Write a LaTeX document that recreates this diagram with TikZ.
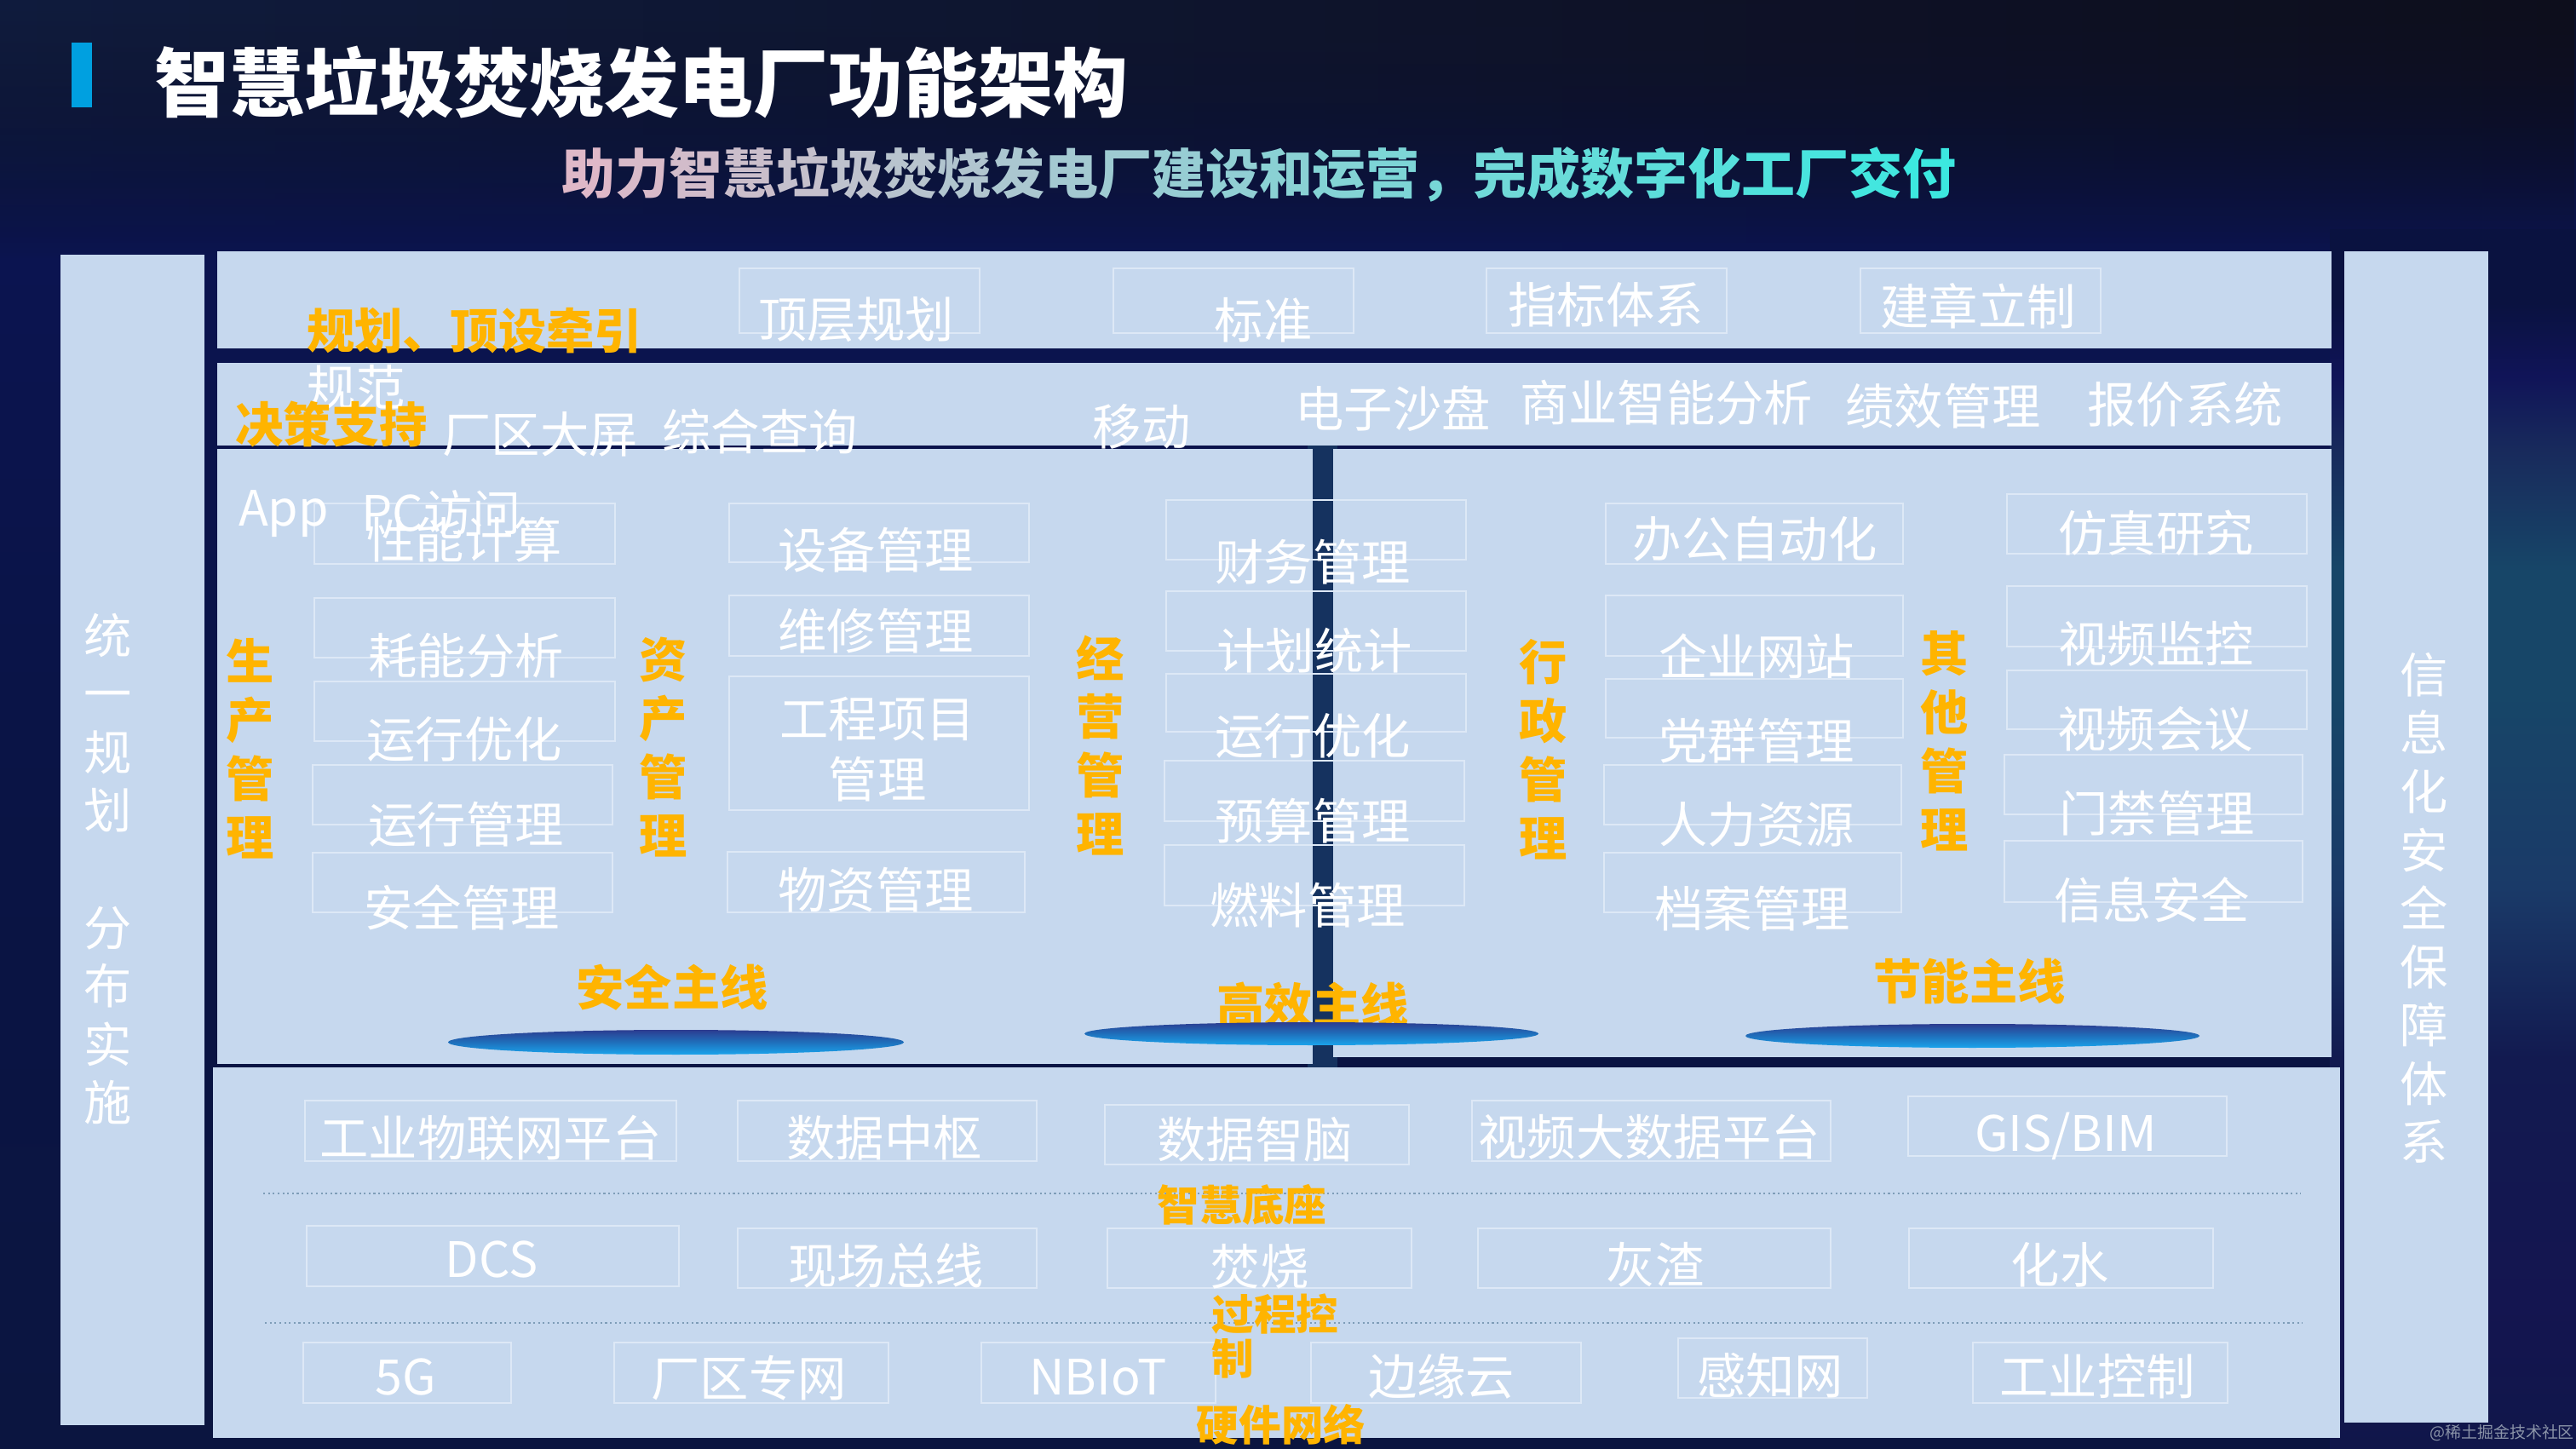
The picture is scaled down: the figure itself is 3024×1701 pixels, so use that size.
\documentclass[tikz,border=0pt]{standalone}
\usepackage{fontspec}
\setmainfont{Noto Sans CJK SC}
\usepackage{xcolor}
\usetikzlibrary{shapes.geometric,fadings}
\definecolor{panelblue}{HTML}{C6D8EE}
\definecolor{celledge}{HTML}{DDE8F6}
\definecolor{goldlabel}{HTML}{FFB400}
\definecolor{barblue}{HTML}{00A0E0}
\definecolor{subpink}{HTML}{DFB8C8}
\definecolor{subcyan}{HTML}{3CE8E0}
\definecolor{dotline}{HTML}{7E9DB8}
\definecolor{backa}{HTML}{0B1540}
\definecolor{backb}{HTML}{0A1444}
\definecolor{backc}{HTML}{0B1450}
\definecolor{backd}{HTML}{0A1035}
\definecolor{backe}{HTML}{0C1026}
\definecolor{sidea}{HTML}{10164A}
\definecolor{sideb}{HTML}{141550}
\definecolor{sidec}{HTML}{121A50}
\definecolor{sided}{HTML}{1A3A68}
\definecolor{sidee}{HTML}{174668}
\definecolor{sidef}{HTML}{182A5C}
\definecolor{sideg}{HTML}{101458}
\definecolor{sideh}{HTML}{0A1240}
\definecolor{topleft}{HTML}{101C3E}
\definecolor{topright}{HTML}{0E0E1C}
\definecolor{splitblue}{HTML}{15325F}
\definecolor{ovaltop}{HTML}{2C3C90}
\definecolor{ovalmid}{HTML}{1F70BC}
\definecolor{ovalbot}{HTML}{1AA4EC}
\definecolor{markgrey}{HTML}{8A93A8}
\pgfdeclareverticalshading{backshade}{100bp}{
  color(0bp)=(backa);color(25bp)=(backa);color(46bp)=(backb);color(66bp)=(backc);color(71bp)=(backd);color(75bp)=(backe);color(100bp)=(backe)}
\pgfdeclareverticalshading{sideshade}{100bp}{
  color(0bp)=(sidea);color(25bp)=(sidea);color(31bp)=(sideb);color(41bp)=(sidec);color(48bp)=(sided);color(56bp)=(sidee);color(61bp)=(sidee);color(66bp)=(sidef);color(69bp)=(sideg);color(72bp)=(sideh);color(75bp)=(sideh);color(100bp)=(sideh)}
\tikzset{
  panelbox/.style={fill=panelblue,inner sep=0pt,outer sep=0pt},
  cellbox/.style={draw=celledge,line width=0.8pt,inner sep=0pt,outer sep=0pt},
  celltext/.style={text=white,inner sep=0pt,align=center,font=\fontsize{16.3}{20.2}\selectfont},
  goldtext/.style={text=goldlabel,inner sep=0pt,align=center,font=\fontsize{16}{19.6}\bfseries\selectfont},
  goldsmall/.style={text=goldlabel,inner sep=0pt,align=left,font=\fontsize{14.1}{14.8}\bfseries\selectfont},
  sidetext/.style={text=white,inner sep=0pt,align=center,font=\fontsize{16}{19.5}\selectfont},
  mainoval/.style={ellipse,inner sep=0pt,top color=ovaltop,bottom color=ovalbot,middle color=ovalmid},
  dotsep/.style={dotline,line width=0.6pt,densely dotted}
}
\begin{document}
\begin{tikzpicture}[x=0.01cm,y=-0.01cm]
  \useasboundingbox (0,0) rectangle (3024,1701);
  \path[shading=backshade] (0,0) rectangle (3024,1701);
  \path[left color=topleft,right color=topright,path fading=south] (0,0) rectangle (3024,300);
  \path[shading=sideshade] (2735,270) rectangle (3024,1701);
  \fill[splitblue] (1535,520) rectangle (1570,1255);
  % panels
  \foreach \nm/\xa/\ya/\xb/\yb in {uni/71/299/240/1673,sec/2752/295/2921/1670,top/255/295/2737/409,dec/255/426/2737/523,
      appl/255/527/1541/1249,appr/1565/527/2737/1241,base/250/1253/2747/1688}
    \node[panelbox,minimum width={(\xb-\xa)*0.01cm},minimum height={(\yb-\ya)*0.01cm}] (panel\nm) at ({(\xa+\xb)/2},{(\ya+\yb)/2}) {};
  \node[fill=barblue,inner sep=0pt,minimum width=0.24cm,minimum height=0.76cm] (titlebar) at (96,88) {};
  \node[text=white,inner sep=0pt,font=\fontsize{25}{30}\bfseries\selectfont] (title) at (753,97) {智慧垃圾焚烧发电厂功能架构};
  \node[inner sep=0pt,font=\fontsize{17.9}{22}\bfseries\selectfont] (subtitle) at (1478,205) {%
    \foreach \zi [count=\ci] in {助,力,智,慧,垃,圾,焚,烧,发,电,厂,建,设,和,运,营,，,完,成,数,字,化,工,厂,交,付}{%
      \pgfmathsetmacro\mixp{100-(\ci-1)*4}\textcolor{subpink!\mixp!subcyan}{\zi}}};
  % cells: name, box corners, text position, text
  \foreach \nm/\xa/\ya/\xb/\yb/\tx/\ty/\txt in {
      plan/868/315/1150/391/1005/375/顶层规划,std/1307/315/1589/391/1483/376/标准,
      kpi/1745/315/2027/391/1885/358/指标体系,rule/2184/315/2466/391/2322/359/建章立制,
      perf/369/591/722/662/545/634/性能计算,cons/369/702/722/772/547/770/耗能分析,
      opta/369/800/722/870/545/868/运行优化,oper/367/898/719/968/547/968/运行管理,
      safe/367/1001/719/1071/542/1065/安全管理,
      equip/856/591/1208/660/1028/646/设备管理,fix/856/699/1208/770/1028/741/维修管理,
      proj/856/794/1208/951/1030/880/{工程项目\\管理},stock/854/1000/1203/1071/1028/1045/物资管理,
      fin/1369/587/1721/657/1541/660/财务管理,stat/1369/694/1721/764/1543/764/计划统计,
      optb/1369/791/1721/859/1541/864/运行优化,budg/1367/893/1719/964/1541/964/预算管理,
      fuel/1367/992/1719/1063/1535/1063/燃料管理,
      auto/1885/591/2234/662/2060/633/办公自动化,web/1885/699/2234/770/2062/770/企业网站,
      party/1885/797/2234/866/2062/870/党群管理,hr/1883/898/2232/968/2062/968/人力资源,
      arch/1883/1001/2232/1071/2057/1067/档案管理,
      simu/2356/580/2708/650/2531/626/仿真研究,cctv/2356/688/2708/759/2531/756/视频监控,
      meet/2356/787/2708/856/2530/856/视频会议,door/2353/886/2703/956/2532/955/门禁管理,
      isec/2353/987/2703/1059/2526/1056/信息安全,
      iot/358/1292/794/1363/576/1336/工业物联网平台,dhub/866/1292/1217/1363/1038/1336/数据中枢,
      dbrain/1297/1297/1654/1367/1473/1338/数据智脑,video/1728/1292/2149/1363/1936/1335/视频大数据平台,
      gis/2240/1287/2614/1357/2425/1334/{GIS/BIM},
      dcs/360/1439/797/1510/577/1478/DCS,bus/866/1442/1217/1512/1040/1486/现场总线,
      burn/1300/1442/1657/1512/1479/1487/焚烧,ash/1735/1442/2149/1512/1943/1485/灰渣,
      water/2241/1442/2598/1512/2418/1485/化水,
      fiveg/356/1576/600/1647/476/1616/5G,lan/721/1576/1043/1647/879/1618/厂区专网,
      nbiot/1152/1576/1427/1647/1289/1617/NBIoT,edge/1539/1576/1856/1647/1692/1616/边缘云,
      sense/1970/1571/2192/1641/2078/1615/感知网,ictl/2316/1576/2615/1647/2462/1616/工业控制}{
    \node[cellbox,minimum width={(\xb-\xa)*0.01cm},minimum height={(\yb-\ya)*0.01cm}] (box\nm) at ({(\xa+\xb)/2},{(\ya+\yb)/2}) {};
    \node[celltext] (txt\nm) at (\tx,\ty) {\txt};
  }
  % loose texts in the decision band
  \foreach \nm/\tx/\ty/\txt in {norm/418/455/规范,screen/634/510/厂区大屏,query/892/507/综合查询,mobile/1340/501/移动,
      sand/1635/480/电子沙盘,bi/1956/473/商业智能分析,merit/2281/477/绩效管理,quote/2565/475/报价系统,
      app/333/603/App,pc/518/602/PC访问}
    \node[celltext] (txt\nm) at (\tx,\ty) {\txt};
  % gold labels
  \node[goldtext] (lblplan) at (557,388) {规划、顶设牵引};
  \node[goldtext] (lbldec) at (389,498) {决策支持};
  \foreach \nm/\tx/\ty/\txt in {prod/294/879/{生\\产\\管\\理},asset/779/877/{资\\产\\管\\理},biz/1292/875/{经\\营\\管\\理},
      admin/1812/880/{行\\政\\管\\理},other/2283/870/{其\\他\\管\\理},
      lsafe/789/1159/安全主线,leff/1541/1180/高效主线,lsave/2312/1152/节能主线}
    \node[goldtext] (lbl\nm) at (\tx,\ty) {\txt};
  \foreach \nm/\xa/\ya/\xb/\yb in {a/526/1209/1061/1238,b/1273/1200/1806/1227,c/2049/1202/2582/1230}
    \node[mainoval,minimum width={(\xb-\xa)*0.01cm},minimum height={(\yb-\ya)*0.01cm}] (oval\nm) at ({(\xa+\xb)/2},{(\ya+\yb)/2}) {};
  % side columns
  \node[sidetext] (txtuni) at (127,1020) {统\\一\\规\\划\\[19.5pt]分\\布\\实\\施};
  \node[sidetext] (txtsec) at (2846,1066) {信\\息\\化\\安\\全\\保\\障\\体\\系};
  % base rows
  \coordinate (dotaw) at (309,1401);
  \coordinate (dotae) at (2701,1401);
  \coordinate (dotbw) at (311,1553);
  \coordinate (dotbe) at (2703,1553);
  \draw[dotsep] (dotaw) -- (dotae);
  \draw[dotsep] (dotbw) -- (dotbe);
  \node[goldsmall] (lblbase) at (1458,1414) {智慧底座};
  \node[goldsmall,anchor=north west] (lblproc) at (1422,1518) {过程控\\制};
  \node[goldsmall] (lblhard) at (1504,1672) {硬件网络};
  \node[text=markgrey,inner sep=0pt,font=\fontsize{5.4}{6}\selectfont] (mark) at (2937,1682) {@稀土掘金技术社区};
\end{tikzpicture}
\end{document}
